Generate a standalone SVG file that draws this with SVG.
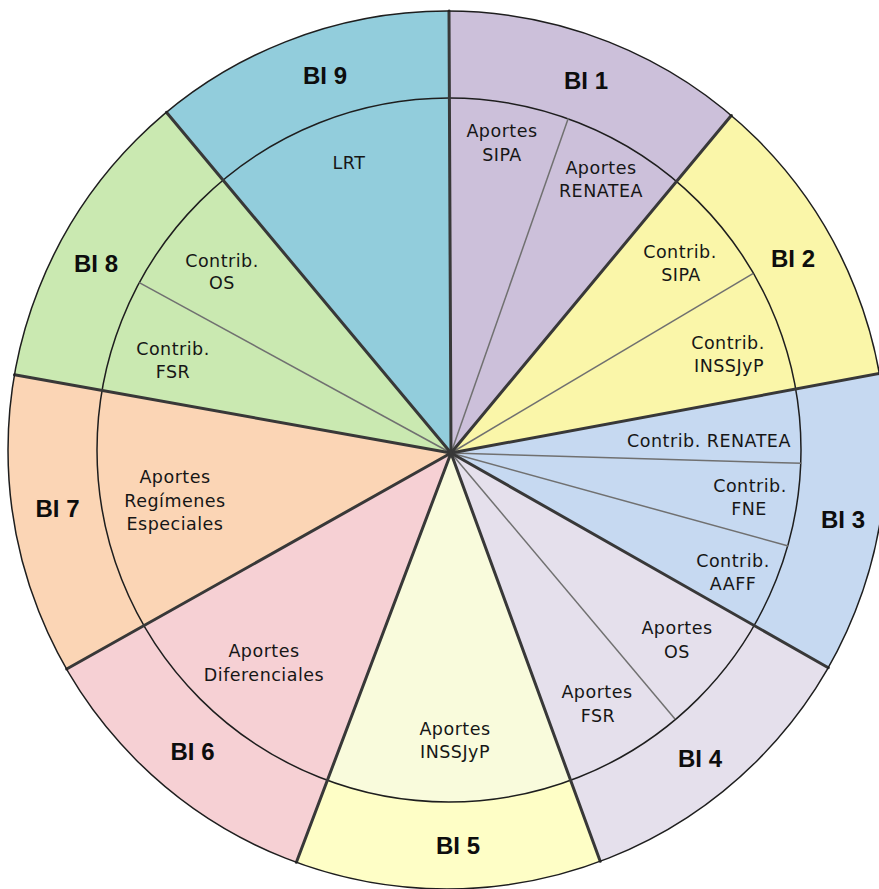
<svg xmlns="http://www.w3.org/2000/svg" width="879" height="889" viewBox="0 0 879 889">
<style>
.slice{stroke:none}
.bi{font-family:"Liberation Sans",Arial,sans-serif;font-weight:bold;font-size:24px;fill:#0d0d0d;text-anchor:middle}
.lb{font-family:"DejaVu Sans",Verdana,sans-serif;font-size:17.5px;fill:#161616;text-anchor:middle;letter-spacing:0.5px}
.spoke{stroke:#383838;stroke-width:3;fill:none;stroke-linecap:round}
.thin{stroke:#707070;stroke-width:1.5;fill:none}
.ring{stroke:#1e1e1e;stroke-width:1.5;fill:none}
</style>
<rect width="879" height="889" fill="#fff"/>
<g id="bi9">
<path class="slice" fill="#92CDDC" d="M451,453 L166.4,112.3 A439,439 0 0,1 449,11 Z"/>
<text class="bi" x="325" y="84">BI 9</text>
<text class="lb" x="349" y="169">LRT</text>
</g>
<g id="bi1">
<path class="slice" fill="#CCC0DA" d="M451,453 L449,11 A439,439 0 0,1 731.3,115.5 Z"/>
<text class="bi" x="586" y="89">BI 1</text>
<text class="lb" x="502" y="137">Aportes</text>
<text class="lb" x="502" y="161">SIPA</text>
<text class="lb" x="601" y="173.5">Aportes</text>
<text class="lb" x="601" y="197">RENATEA</text>
</g>
<g id="bi2">
<path class="slice" fill="#FAF6A9" d="M451,453 L731.3,115.5 A439,439 0 0,1 879.3,373.5 Z"/>
<text class="bi" x="793" y="267">BI 2</text>
<text class="lb" x="680" y="258">Contrib.</text>
<text class="lb" x="681" y="281">SIPA</text>
<text class="lb" x="728" y="349">Contrib.</text>
<text class="lb" x="729" y="372">INSSJyP</text>
</g>
<g id="bi3">
<path class="slice" fill="#C6D9F1" d="M451,453 L879.3,373.5 A439,439 0 0,1 828.3,667.7 Z"/>
<text class="bi" x="843" y="528">BI 3</text>
<text class="lb" x="709" y="446.5">Contrib. RENATEA</text>
<text class="lb" x="750" y="491.5">Contrib.</text>
<text class="lb" x="749" y="515">FNE</text>
<text class="lb" x="733" y="566.5">Contrib.</text>
<text class="lb" x="733" y="590">AAFF</text>
</g>
<g id="bi4">
<path class="slice" fill="#E5E0EC" d="M451,453 L828.3,667.7 A439,439 0 0,1 600.2,861.3 Z"/>
<text class="bi" x="700" y="767">BI 4</text>
<text class="lb" x="677" y="634">Aportes</text>
<text class="lb" x="677" y="658">OS</text>
<text class="lb" x="597" y="698">Aportes</text>
<text class="lb" x="598" y="721.5">FSR</text>
</g>
<g id="bi5">
<path class="slice" fill="#FEFEC6" d="M451,453 L600.2,861.3 A439,439 0 0,1 296.4,862.3 Z"/>
<path class="slice" fill="#F9FBDC" d="M451,453 L570.6,780.3 A352,352 0 0,1 327.3,780.3 Z"/>
<text class="bi" x="458" y="854">BI 5</text>
<text class="lb" x="455" y="735">Aportes</text>
<text class="lb" x="455" y="758">INSSJyP</text>
</g>
<g id="bi6">
<path class="slice" fill="#F6D0D4" d="M451,453 L296.4,862.3 A439,439 0 0,1 66.7,669 Z"/>
<text class="bi" x="192.5" y="759.5">BI 6</text>
<text class="lb" x="264" y="657">Aportes</text>
<text class="lb" x="264" y="680.5">Diferenciales</text>
</g>
<g id="bi7">
<path class="slice" fill="#FBD5B5" d="M451,453 L66.7,669 A439,439 0 0,1 14.5,374.8 Z"/>
<text class="bi" x="57.5" y="516.5">BI 7</text>
<text class="lb" x="175" y="483">Aportes</text>
<text class="lb" x="175" y="506.5">Regímenes</text>
<text class="lb" x="175" y="530">Especiales</text>
</g>
<g id="bi8">
<path class="slice" fill="#CAE9B1" d="M451,453 L14.5,374.8 A439,439 0 0,1 166.4,112.3 Z"/>
<text class="bi" x="96" y="271.5">BI 8</text>
<text class="lb" x="222" y="266.5">Contrib.</text>
<text class="lb" x="222" y="288.5">OS</text>
<text class="lb" x="173" y="355">Contrib.</text>
<text class="lb" x="173" y="378.3">FSR</text>
</g>
<g id="connectors">
<circle class="ring" cx="449" cy="450" r="352"/>
<line class="thin" x1="451" y1="453" x2="568.3" y2="118.3"/>
<line class="thin" x1="451" y1="453" x2="753.3" y2="273.3"/>
<line class="thin" x1="451" y1="453" x2="801.7" y2="463.3"/>
<line class="thin" x1="451" y1="453" x2="788.3" y2="546"/>
<line class="thin" x1="451" y1="453" x2="675" y2="719"/>
<line class="thin" x1="451" y1="453" x2="139.3" y2="282.7"/>
<line class="spoke" x1="451" y1="453" x2="449" y2="11"/>
<line class="spoke" x1="451" y1="453" x2="731.3" y2="115.5"/>
<line class="spoke" x1="451" y1="453" x2="879.3" y2="373.5"/>
<line class="spoke" x1="451" y1="453" x2="828.3" y2="667.7"/>
<line class="spoke" x1="451" y1="453" x2="600.2" y2="861.3"/>
<line class="spoke" x1="451" y1="453" x2="296.4" y2="862.3"/>
<line class="spoke" x1="451" y1="453" x2="66.7" y2="669"/>
<line class="spoke" x1="451" y1="453" x2="14.5" y2="374.8"/>
<line class="spoke" x1="451" y1="453" x2="166.4" y2="112.3"/>
<circle class="ring" cx="447" cy="450" r="439"/>
</g>
</svg>
